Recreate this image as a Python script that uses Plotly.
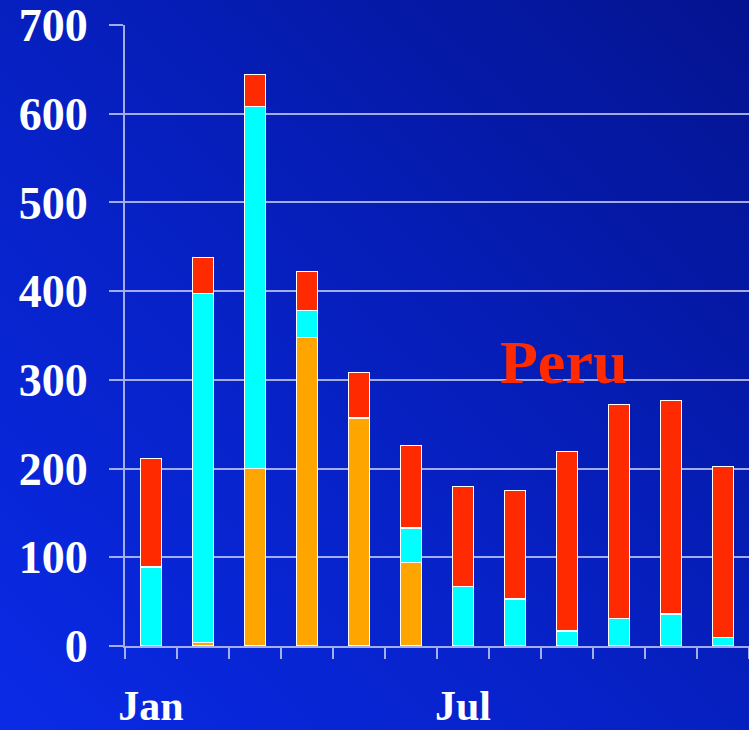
import base64
import plotly.graph_objects as go

months = ["Jan", "Feb", "Mar", "Apr", "May", "Jun", "Jul", "Aug", "Sep", "Oct", "Nov", "Dec"]
tick_labels = ["Jan", "", "", "", "", "", "Jul", "", "", "", "", ""]
orange_vals = [0, 4, 200, 348, 256, 94, 0, 0, 0, 0, 0, 0]
cyan_vals = [89, 393, 408, 30, 2, 39, 67, 53, 17, 31, 36, 10]
red_vals = [122, 41, 36, 44, 50, 93, 113, 122, 202, 241, 241, 192]

svg = (
    '<svg xmlns="http://www.w3.org/2000/svg" width="749" height="730" '
    'preserveAspectRatio="none" viewBox="0 0 749 730">'
    '<defs><linearGradient id="g" x1="0" y1="1" x2="1" y2="0">'
    '<stop offset="0" stop-color="#0a2ae6"/>'
    '<stop offset="0.5" stop-color="#0620c0"/>'
    '<stop offset="1" stop-color="#04138f"/>'
    '</linearGradient></defs>'
    '<rect width="749" height="730" fill="url(#g)"/></svg>'
)
bg_src = "data:image/svg+xml;base64," + base64.b64encode(svg.encode()).decode()

fig = go.Figure()
for vals, col in [(orange_vals, "#FFA500"), (cyan_vals, "#00FFFF"), (red_vals, "#FF2A00")]:
    fig.add_trace(go.Bar(
        x=months, y=vals, marker=dict(color=col, line=dict(color="white", width=1.2)),
        showlegend=False,
    ))

L, T, R, B = 125, 25, 0, 84
W, H = 749, 730
pw, ph = W - L - R, H - T - B

fig.add_layout_image(dict(
    source=bg_src, xref="paper", yref="paper",
    x=-L / pw, y=1 + T / ph, sizex=W / pw, sizey=H / ph,
    xanchor="left", yanchor="top", sizing="stretch", layer="below",
))

fig.add_annotation(
    text="Peru", xref="paper", yref="paper", x=(563 - L) / pw, y=(646 - 362) / ph,
    xanchor="center", yanchor="middle", showarrow=False,
    font=dict(family="Liberation Serif", size=62, color="#FF2A00", weight="bold"),
)

axis_col = "rgba(215,220,245,0.75)"
fig.update_layout(
    width=W, height=H,
    margin=dict(l=L, r=R, t=T, b=B, pad=0),
    barmode="stack", bargap=0.6,
    paper_bgcolor="#0620c0", plot_bgcolor="rgba(0,0,0,0)",
    xaxis=dict(
        type="category", tickmode="array", tickvals=months, ticktext=tick_labels,
        tickson="boundaries", ticks="outside", ticklen=11, tickwidth=1.5, tickcolor=axis_col,
        showline=True, linecolor=axis_col, linewidth=2, showgrid=False,
        tickfont=dict(family="Liberation Serif", size=42, color="white", weight="bold"),
        ticklabelstandoff=22, range=[-0.5, 11.5], tickangle=0, automargin=False,
    ),
    yaxis=dict(
        range=[0, 700], tickvals=[0, 100, 200, 300, 400, 500, 600, 700],
        ticks="outside", ticklen=14, tickwidth=1.5, tickcolor=axis_col,
        showgrid=True, gridcolor=axis_col, gridwidth=1.5,
        showline=True, linecolor=axis_col, linewidth=2, zeroline=False,
        tickfont=dict(family="Liberation Serif", size=46, color="white", weight="bold"),
        ticklabelstandoff=12, automargin=False,
    ),
)

fig.write_html(
    "out.html",
    config={"displayModeBar": False},
    post_script="document.body.style.margin='0';document.body.style.overflow='hidden';",
)
